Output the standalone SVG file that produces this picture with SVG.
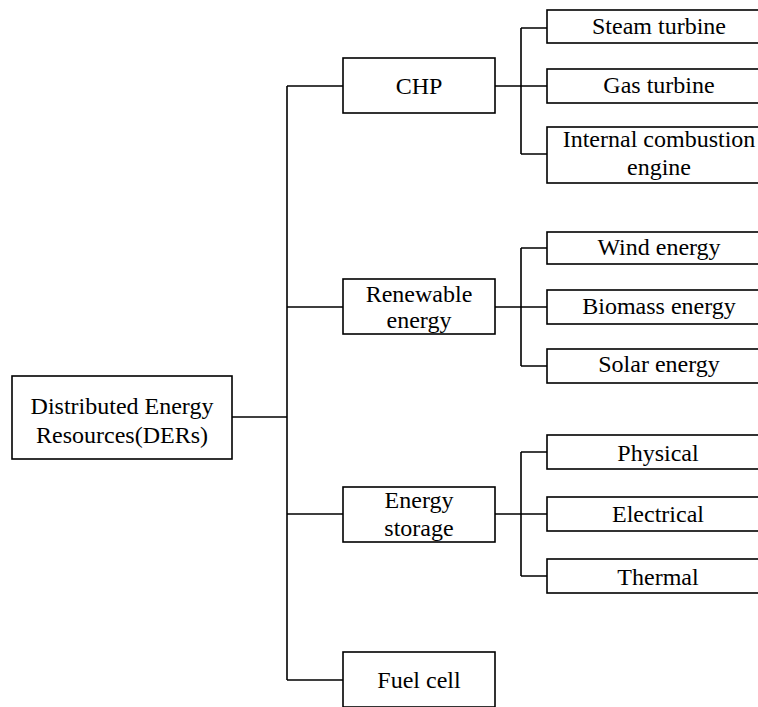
<svg xmlns="http://www.w3.org/2000/svg" width="758" height="707" viewBox="0 0 758 707">
  <style>
    .box { fill: #ffffff; stroke: #000000; stroke-width: 1.6; }
    .lbl { font-size: 24px; fill: #000000; text-anchor: middle; }
    .wire { fill: none; stroke: #000000; stroke-width: 1.6; }
  </style>
  <rect width="758" height="707" fill="#ffffff"/>

  <!-- connectors -->
  <g id="connectors" class="wire">
    <!-- root to trunk -->
    <path d="M232 417 H287"/>
    <path d="M287 86 V680"/>
    <path d="M287 86 H343 M287 307 H343 M287 514 H343 M287 680 H343"/>
    <!-- CHP branch -->
    <path d="M495 86 H521 M521 28 V154 M521 28 H547 M521 86 H547 M521 154 H547"/>
    <!-- renewable branch -->
    <path d="M495 307 H521 M521 248 V366 M521 248 H547 M521 307 H547 M521 366 H547"/>
    <!-- storage branch -->
    <path d="M495 514 H521 M521 452 V576 M521 452 H547 M521 514 H547 M521 576 H547"/>
  </g>

  <g font-family="Liberation Serif">
  <!-- root -->
  <g id="der">
    <rect class="box" x="12" y="376" width="220" height="83"/>
    <text class="lbl" x="122" y="414">Distributed Energy</text>
    <text class="lbl" x="122" y="443">Resources(DERs)</text>
  </g>

  <!-- categories -->
  <g id="chp">
    <rect class="box" x="343" y="58" width="152" height="55"/>
    <text class="lbl" x="419" y="94">CHP</text>
  </g>
  <g id="renewable">
    <rect class="box" x="343" y="279" width="152" height="55"/>
    <text class="lbl" x="419" y="302">Renewable</text>
    <text class="lbl" x="419" y="328">energy</text>
  </g>
  <g id="storage">
    <rect class="box" x="343" y="487" width="152" height="55"/>
    <text class="lbl" x="419" y="508">Energy</text>
    <text class="lbl" x="419" y="536">storage</text>
  </g>
  <g id="fuel-cell">
    <rect class="box" x="343" y="652" width="152" height="55"/>
    <text class="lbl" x="419" y="688">Fuel cell</text>
  </g>

  <!-- CHP technologies -->
  <g id="steam-turbine">
    <rect class="box" x="547" y="10" width="224" height="33"/>
    <text class="lbl" x="659" y="34">Steam turbine</text>
  </g>
  <g id="gas-turbine">
    <rect class="box" x="547" y="69" width="224" height="34"/>
    <text class="lbl" x="659" y="93">Gas turbine</text>
  </g>
  <g id="ice">
    <rect class="box" x="547" y="127" width="224" height="56"/>
    <text class="lbl" x="659" y="147">Internal combustion</text>
    <text class="lbl" x="659" y="175">engine</text>
  </g>

  <!-- renewable sources -->
  <g id="wind">
    <rect class="box" x="547" y="232" width="224" height="32"/>
    <text class="lbl" x="659" y="255">Wind energy</text>
  </g>
  <g id="biomass">
    <rect class="box" x="547" y="290" width="224" height="34"/>
    <text class="lbl" x="659" y="314">Biomass energy</text>
  </g>
  <g id="solar">
    <rect class="box" x="547" y="349" width="224" height="34"/>
    <text class="lbl" x="659" y="372">Solar energy</text>
  </g>

  <!-- storage types -->
  <g id="physical">
    <rect class="box" x="547" y="435" width="224" height="34"/>
    <text class="lbl" x="658" y="461">Physical</text>
  </g>
  <g id="electrical">
    <rect class="box" x="547" y="497" width="224" height="34"/>
    <text class="lbl" x="658" y="522">Electrical</text>
  </g>
  <g id="thermal">
    <rect class="box" x="547" y="559" width="224" height="34"/>
    <text class="lbl" x="658" y="585">Thermal</text>
  </g>
  </g>
</svg>
